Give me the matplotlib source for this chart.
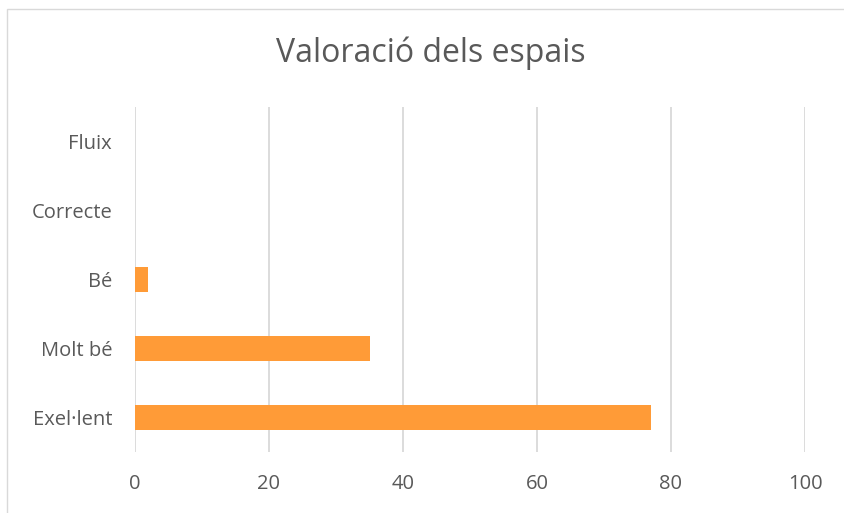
import matplotlib.pyplot as plt
from matplotlib.patches import Rectangle

# dades del gràfic
categories = ['Exel·lent', 'Molt bé', 'Bé', 'Correcte', 'Fluix']
valors = [77, 35, 2, 0, 0]
xticks = [0, 20, 40, 60, 80, 100]

plt.rcParams['font.family'] = ['Open Sans', 'DejaVu Sans']

fig = plt.figure(figsize=(8.44, 5.13), dpi=100)
ax = fig.add_axes([135 / 844, 1 - 452 / 513, 670 / 844, 345 / 513])

ax.barh(range(len(categories)), valors, height=0.35, color='#FF9B37', zorder=3)

ax.set_xlim(0, 100)
ax.set_ylim(-0.5, len(categories) - 0.5)
ax.set_xticks(xticks)
ax.set_yticks(range(len(categories)))
ax.set_yticklabels(categories)
ax.grid(axis='x', color='#D9D9D9', linewidth=1.3, zorder=0)
for s in ax.spines.values():
    s.set_visible(False)
ax.tick_params(length=0, labelsize=14.5, colors='#595959')
ax.tick_params(axis='x', pad=16)
ax.tick_params(axis='y', pad=16.5)

fig.text(431 / 844, 1 - 53 / 513, 'Valoració dels espais', ha='center', va='center',
         fontsize=23, color='#595959')

# vora del gràfic
fig.patches.append(Rectangle((7 / 844, -0.1), 1.1, 1 - 9 / 513 + 0.1,
                             transform=fig.transFigure, fill=False,
                             edgecolor='#D9D9D9', linewidth=1))

fig.savefig('out.png', dpi=100)
